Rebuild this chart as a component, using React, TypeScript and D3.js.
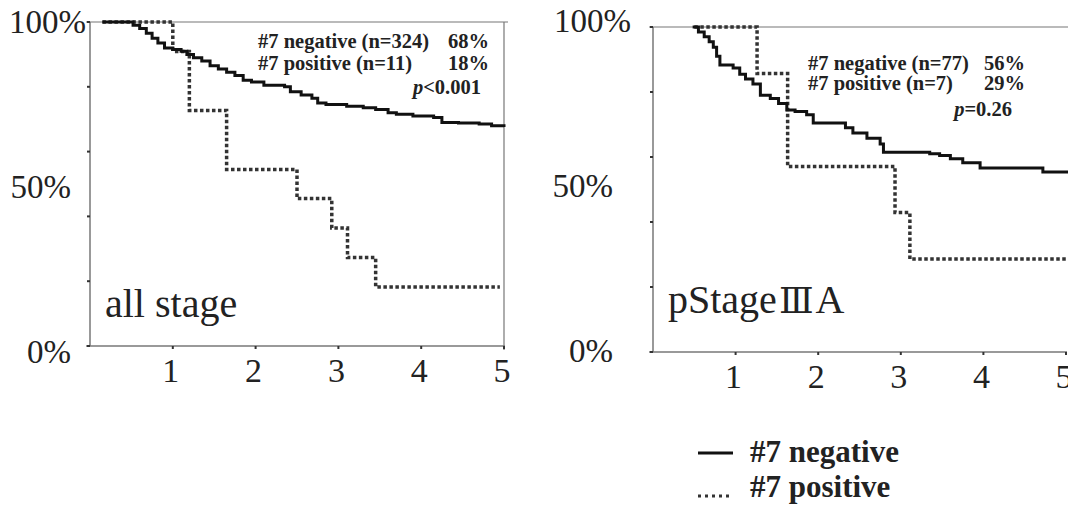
import React from 'react';
import * as d3 from 'd3';

// survival curves: time in years, survival in %
const allNegTimes = [0.15, 0.45, 0.52, 0.6, 0.68, 0.75, 0.82, 0.9, 1.0, 1.1, 1.17, 1.25, 1.35, 1.45, 1.55, 1.65, 1.75, 1.85, 1.95, 2.1, 2.35, 2.42, 2.55, 2.68, 2.75, 2.85, 3.1, 3.3, 3.45, 3.6, 3.7, 3.9, 4.15, 4.25, 4.45, 4.7, 4.85, 5];
const allNegSurv = [100, 100, 99, 98, 96.5, 95, 93.5, 92, 91.5, 91, 90, 89, 88, 86.5, 85.5, 84.5, 83.5, 82, 81.5, 80.5, 80, 78.5, 77.5, 76.5, 75, 74.5, 74, 73.5, 73, 72, 71.5, 71, 70.5, 69, 68.8, 68.5, 68, 67.6];
const allPosTimes = [0.15, 1.0, 1.2, 1.65, 2.5, 2.92, 3.11, 3.45, 4.95];
const allPosSurv = [100, 90.9, 72.7, 54.5, 45.5, 36.4, 27.3, 18.2, 18.2];

const s3aNegTimes = [0.48, 0.55, 0.62, 0.68, 0.73, 0.77, 0.81, 0.97, 1.05, 1.12, 1.21, 1.3, 1.42, 1.52, 1.62, 1.72, 1.86, 1.94, 2.33, 2.42, 2.59, 2.75, 2.79, 3.35, 3.47, 3.6, 3.75, 3.96, 4.72, 5.05];
const s3aNegSurv = [100, 98.5, 97, 95.5, 93.8, 91, 88.3, 87.4, 85.5, 84, 82.5, 79, 78, 76.5, 74.5, 74, 73, 70.5, 69, 67.4, 65.8, 64, 61.5, 61, 60.5, 59.5, 58.2, 56.6, 55.4, 55.4];
const s3aPosTimes = [0.5, 1.26, 1.63, 2.93, 3.11, 5.05];
const s3aPosSurv = [100, 85.7, 57.1, 42.9, 28.6, 28.6];

const xTicks = [1, 2, 3, 4, 5];
const yTicks = [0, 20, 40, 60, 80, 100];
const yLabels = [100, 50, 0];

const serif = 'Liberation Serif';

type Panel = {
  x0: number; x1: number; y0: number; y1: number;
  labelTop: number; labelBottom: number; labelX100: number; labelX: number;
  neg: [number[], number[]]; pos: [number[], number[]];
  title: string; roman: string; titleEnd: string; titleY: number;
  notes: string[][]; pVal: string;
  noteX: number; noteRight: number; pRight: number; noteY: number[];
  rightBorder: boolean;
};

const panels: Panel[] = [
  {
    x0: 90, x1: 504, y0: 22, y1: 346, labelTop: 33, labelBottom: 363, labelX100: 86, labelX: 71,
    neg: [allNegTimes, allNegSurv], pos: [allPosTimes, allPosSurv],
    title: 'all stage', roman: '', titleEnd: '', titleY: 317,
    notes: [['#7 negative (n=324)', '68%'], ['#7 positive (n=11)', '18%']],
    pVal: '<0.001',
    noteX: 258, noteRight: 489, pRight: 481, noteY: [48, 70, 94],
    rightBorder: true,
  },
  {
    x0: 653, x1: 1066, y0: 27, y1: 352, labelTop: 32, labelBottom: 362, labelX100: 631, labelX: 613,
    neg: [s3aNegTimes, s3aNegSurv], pos: [s3aPosTimes, s3aPosSurv],
    title: 'pStage', roman: 'Ⅲ', titleEnd: 'A', titleY: 313,
    notes: [['#7 negative (n=77)', '56%'], ['#7 positive (n=7)', '29%']],
    pVal: '=0.26',
    noteX: 808, noteRight: 1025, pRight: 1012, noteY: [70, 90, 116],
    rightBorder: false,
  },
];

function KMPanel({ p }: { p: Panel }) {
  const x = d3.scaleLinear().domain([0, 5]).range([p.x0, p.x1]);
  const y = d3.scaleLinear().domain([0, 100]).range([p.y1, p.y0]);
  const yLab = d3.scaleLinear().domain([0, 100]).range([p.labelBottom, p.labelTop]);
  const line = d3.line<[number, number]>()
    .x(d => x(d[0]))
    .y(d => y(d[1]))
    .curve(d3.curveStepAfter);
  const negPts = p.neg[0].map((t, i) => [t, p.neg[1][i]] as [number, number]);
  const posPts = p.pos[0].map((t, i) => [t, p.pos[1][i]] as [number, number]);
  const axisColor = '#777';

  return (
    <g>
      {/* frame */}
      <line x1={p.x0} x2={p.x0} y1={p.y0} y2={p.y1} stroke={axisColor} strokeWidth={1.5} />
      <line x1={p.x0 - 4} x2={p.x1 + 1} y1={p.y1} y2={p.y1} stroke={axisColor} strokeWidth={1.5} />
      <line x1={p.x0 - 4} x2={p.x1 + 4} y1={p.y0} y2={p.y0} stroke={axisColor} strokeWidth={1.2} />
      {p.rightBorder && (
        <line x1={p.x1} x2={p.x1} y1={p.y0} y2={p.y1 + 4} stroke={axisColor} strokeWidth={1.2} />
      )}
      {yTicks.map(v => (
        <line key={v} x1={p.x0 - 3} x2={p.x0} y1={y(v)} y2={y(v)} stroke="#333" strokeWidth={2} />
      ))}
      {xTicks.map(v => (
        <line key={v} x1={x(v)} x2={x(v)} y1={p.y1} y2={p.y1 + 3} stroke="#333" strokeWidth={2} />
      ))}
      {yLabels.map(v => (
        <text key={v} x={v === 100 ? p.labelX100 : p.labelX} y={yLab(v)}
          textAnchor="end" fontFamily={serif} fontSize={33} fill="#222">
          {v}%
        </text>
      ))}
      {xTicks.map(v => (
        <text key={v} x={x(v) - 2} y={p.y1 + 36} textAnchor="middle" fontFamily={serif} fontSize={34} fill="#222">
          {v}
        </text>
      ))}

      {/* curves */}
      <path d={line(posPts) || ''} fill="none" stroke="#333" strokeWidth={3.5} strokeDasharray="3.5,2.5" />
      <path d={line(negPts) || ''} fill="none" stroke="#111" strokeWidth={3} />

      {/* notes */}
      {p.notes.map((n, i) => (
        <g key={i} fontFamily={serif} fontWeight="bold" fontSize={20.5} fill="#222">
          <text x={p.noteX} y={p.noteY[i]}>{n[0]}</text>
          <text x={p.noteRight} y={p.noteY[i]} textAnchor="end">{n[1]}</text>
        </g>
      ))}
      <text x={p.pRight} y={p.noteY[2]} textAnchor="end" fontFamily={serif} fontWeight="bold" fontSize={20.5} fill="#222">
        <tspan fontStyle="italic">p</tspan>{p.pVal}
      </text>
      <text x={p.x0 + 15} y={p.titleY} fontFamily={serif} fontSize={40} fill="#222">
        {p.title}
        {p.roman && <tspan fontFamily="DejaVu Serif" fontSize={36} dx={2}>{p.roman}</tspan>}
        {p.titleEnd && <tspan dx={2}>{p.titleEnd}</tspan>}
      </text>
    </g>
  );
}

export default function App() {
  return (
    <svg width={1068} height={505} style={{ position: 'absolute', left: 0, top: 0, background: '#fff' }}>
      {panels.map((p, i) => <KMPanel key={i} p={p} />)}
      {/* legend */}
      <g fontFamily={serif} fontWeight="bold" fontSize={31} fill="#222">
        <line x1={698} x2={733} y1={453} y2={453} stroke="#111" strokeWidth={3} />
        <text x={750} y={462}>#7 negative</text>
        <line x1={698} x2={733} y1={496} y2={496} stroke="#333" strokeWidth={3} strokeDasharray="3,4" />
        <text x={750} y={497}>#7 positive</text>
      </g>
    </svg>
  );
}
